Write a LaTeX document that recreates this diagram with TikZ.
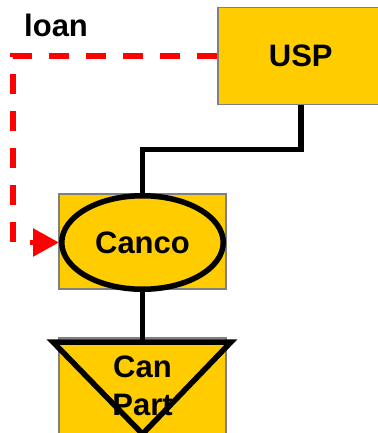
\documentclass[tikz,border=0pt]{standalone}
\usepackage{fontspec}
\setmainfont{Liberation Sans}
\usetikzlibrary{arrows.meta,shapes.geometric}
\definecolor{boxfill}{HTML}{FFCC00}
\definecolor{boxedge}{HTML}{808080}

\begin{document}
\begin{tikzpicture}[x=1pt,y=-1pt,
  entity/.style={rectangle, draw=boxedge, line width=1.5pt, fill=boxfill, inner sep=0pt},
  txt/.style={font=\fontsize{31}{38}\selectfont\bfseries, align=center, inner sep=0pt},
  link/.style={line width=5.5pt, line join=miter},
  loanline/.style={draw=red, line width=5.5pt, dash pattern=on 20pt off 17pt,
    -{Triangle[length=26pt,width=27pt]}}]
\useasboundingbox (0,0) rectangle (377,433);

% parent company box
\node[entity, txt, minimum width=166pt, minimum height=97pt, anchor=north west]
  (usp) at (217,7) {USP};

% Canco: box with an ellipse on top
\node[entity, minimum width=167pt, minimum height=95pt] (cancobox) at (142.5,241.5) {};
\node[ellipse, draw, line width=5.5pt, fill=boxfill, minimum width=161.5pt,
  minimum height=93.5pt, inner sep=0pt, txt] (canco) at (142.5,242.5) {Canco};

% Can Part: box with a downward triangle
\node[entity, minimum width=167pt, minimum height=110pt, anchor=north]
  (canpartbox) at (142.5,337) {};
\coordinate (tl) at (53,342);
\coordinate (tr) at (231,342);
\coordinate (tb) at (142.5,434);
\draw[line width=5.5pt, line join=miter] (tl) -- (tr) -- (tb) -- cycle;
\coordinate (tt) at (142.5,342);
\node[txt] (canpart) at (142.5,386) {Can\\Part};

% ownership links
\draw[link] (usp.south) -- ++(0,44) -| (canco.north);
\draw[link] (canco.south) -- (tt);

% loan
\coordinate (lc1) at (13,56);
\coordinate (lc2) at (13,242.5);
\draw[loanline] (usp.west |- lc1) -- (lc1) -- (lc2) -- (canco.west);
\node[font=\fontsize{31}{36}\selectfont\bfseries, anchor=base west, inner sep=0pt]
  (loanlbl) at (24,37) {loan};
\end{tikzpicture}
\end{document}
